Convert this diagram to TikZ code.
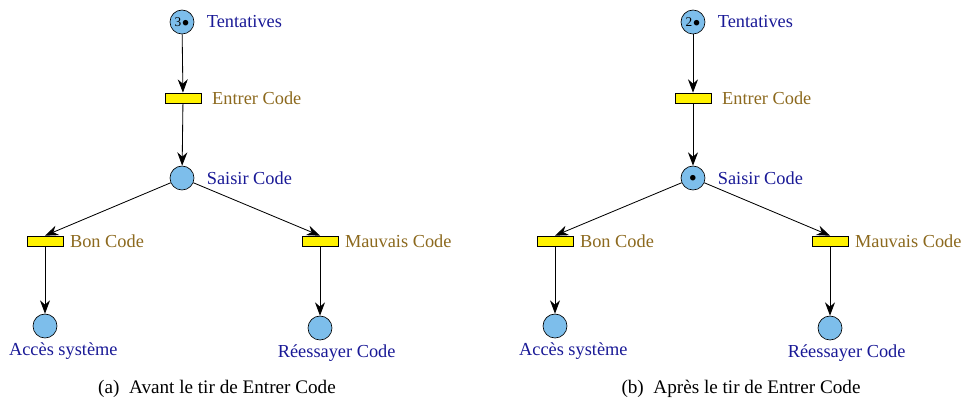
\documentclass[tikz,border=0pt]{standalone}
\usepackage{fontspec}
\setmainfont{Liberation Serif}
\usetikzlibrary{arrows.meta}
\definecolor{placecolor}{RGB}{125,190,235}
\definecolor{placetext}{RGB}{25,25,150}
\definecolor{transtext}{RGB}{140,105,30}
\begin{document}
\begin{tikzpicture}[
            x=0.6pt, y=-0.6pt,
            >={Stealth[width=6pt,length=8pt]},
                place/.style = {circle, draw=black, fill=placecolor,
                            minimum size=14.4pt, inner sep=0pt, font=\footnotesize},
                transition/.style = {rectangle, draw=black, fill=yellow,
                            minimum width=21.6pt, minimum height=6pt, inner sep=0pt},
                placelabel/.style = {text=placetext, label distance=4pt, font=\fontsize{11}{13}\selectfont},
                translabel/.style = {text=transtext, label distance=3pt, font=\fontsize{11}{13}\selectfont},
                captiontext/.style = {font=\fontsize{11.5}{14}\selectfont},
            every edge/.style={draw, ->, line width=0.5pt}]
            \useasboundingbox (0,0) rectangle (962,400);
            % (a) avant le tir
            \node (TentativesA) [place, label={[placelabel]right:Tentatives}] at (182,22) {3\kern0.5pt$\bullet$};
            \node (EntrerCodeA) [transition, label={[translabel]right:Entrer Code}] at (183,98) {};
            \node (SaisirCodeA) [place, label={[placelabel]right:Saisir Code}] at (182,178) {};
            \node (BonCodeA) [transition, label={[translabel, label distance=0.5pt]right:Bon Code}] at (45,241) {};
            \node (MauvaisCodeA) [transition, label={[translabel, label distance=0.5pt]right:Mauvais Code}] at (320,241) {};
            \node (AccesSystemeA) [place, label={[placelabel, label distance=-1pt, xshift=11pt]below:Accès système}] at (45,326) {};
            \node (ReessayerCodeA) [place, label={[placelabel, label distance=-1pt, xshift=10pt]below:Réessayer Code}] at (320,328) {};
            \node (CaptionA) [captiontext] at (217,389) {(a)~~Avant le tir de Entrer Code};
            \draw (TentativesA) edge (EntrerCodeA);
            \draw (EntrerCodeA) edge (SaisirCodeA);
            \draw (SaisirCodeA) edge (BonCodeA.north);
            \draw (SaisirCodeA) edge (MauvaisCodeA.north);
            \draw (BonCodeA) edge (AccesSystemeA);
            \draw (MauvaisCodeA) edge (ReessayerCodeA);
            % (b) apres le tir
            \node (TentativesB) [place, label={[placelabel]right:Tentatives}] at (693,22) {2\kern0.5pt$\bullet$};
            \node (EntrerCodeB) [transition, label={[translabel]right:Entrer Code}] at (693,98) {};
            \node (SaisirCodeB) [place, label={[placelabel]right:Saisir Code}] at (693,178) {$\bullet$};
            \node (BonCodeB) [transition, label={[translabel, label distance=0.5pt]right:Bon Code}] at (555,241) {};
            \node (MauvaisCodeB) [transition, label={[translabel, label distance=0.5pt]right:Mauvais Code}] at (830,241) {};
            \node (AccesSystemeB) [place, label={[placelabel, label distance=-1pt, xshift=11pt]below:Accès système}] at (555,326) {};
            \node (ReessayerCodeB) [place, label={[placelabel, label distance=-1pt, xshift=10pt]below:Réessayer Code}] at (830,328) {};
            \node (CaptionB) [captiontext] at (741,389) {(b)~~Après le tir de Entrer Code};
            \draw (TentativesB) edge (EntrerCodeB);
            \draw (EntrerCodeB) edge (SaisirCodeB);
            \draw (SaisirCodeB) edge (BonCodeB.north);
            \draw (SaisirCodeB) edge (MauvaisCodeB.north);
            \draw (BonCodeB) edge (AccesSystemeB);
            \draw (MauvaisCodeB) edge (ReessayerCodeB);
        \end{tikzpicture}
\end{document}
